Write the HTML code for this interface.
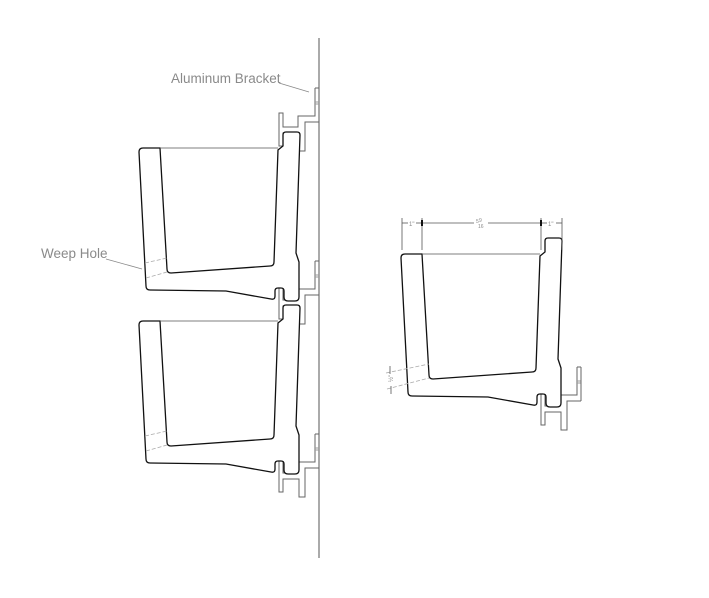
<!DOCTYPE html>
<html><head><meta charset="utf-8"><style>
html,body{margin:0;padding:0;background:#fff;}
svg{display:block;}
text{font-family:"Liberation Sans",sans-serif;fill:#8a8a8a;}
</style></head><body>
<svg width="709" height="598" viewBox="0 0 709 598" xmlns="http://www.w3.org/2000/svg">
<defs>
<g id="br" fill="none" stroke="#666" stroke-width="1">
  <path d="M315,88 L315,116 L298,116 L298,127 L283,127 L283,113 L279,113 L279,146 L283,146 L283,133 L299,133 L299,151 L305,151 L305,122 L319,122"/>
  <path d="M315,102 L319,102 M315,104 L319,104" stroke="#999"/>
  <path d="M315,88 L319,88"/>
</g>
<g id="pl">
  <path d="M160,148 L167,269 Q167,273 171,273 L270,266 Q274,266 274,262 L278,150 L283,146 L283,135 Q283,132 286,132 L297,132 Q300,132 300,135 L296,253 L299,262 L299,297 Q299,301 295,301 L288,301 Q284,301 284,297 L284,291 Q284,288 281,288 L278,288 Q275,288 275,291 L275,296 Q275,300 271,299 L226,291 L150,290 Q146,290 146,286 L139,152 Q139,148 143,148 Z" fill="#fff" stroke="#111" stroke-width="1.3"/>
  <path d="M160,148 L278,148" stroke="#555" stroke-width="0.8"/>
</g>
</defs>
<line x1="319" y1="38" x2="319" y2="558" stroke="#555" stroke-width="1"/>
<use href="#br"/>
<use href="#br" transform="translate(0,173)"/>
<use href="#br" transform="translate(0,346)"/>
<use href="#pl"/>
<use href="#pl" transform="translate(0,173)"/>
<g stroke="#aaa" stroke-width="0.8" stroke-dasharray="4,2">
<line x1="145" y1="263" x2="167" y2="258"/>
<line x1="146" y1="278" x2="167" y2="272"/>
<line x1="145" y1="436" x2="167" y2="431"/>
<line x1="146" y1="451" x2="167" y2="445"/>
</g>
<text x="171" y="83" font-size="13.5">Aluminum Bracket</text>
<line x1="279" y1="83" x2="309" y2="92" stroke="#888" stroke-width="0.8"/>
<text x="41" y="258" font-size="13.5">Weep Hole</text>
<line x1="106" y1="259" x2="142" y2="269" stroke="#888" stroke-width="0.8"/>
<!-- right diagram -->
<use href="#br" transform="translate(262,279)"/>
<line x1="581" y1="367" x2="581" y2="401" stroke="#666" stroke-width="1"/>
<use href="#pl" transform="translate(262,106)"/>
<g stroke="#aaa" stroke-width="0.8" stroke-dasharray="4,2">
<line x1="386" y1="373" x2="429" y2="364"/>
<line x1="387" y1="389" x2="429" y2="378"/>
</g>
<g stroke="#555" stroke-width="0.8" fill="none">
<line x1="402" y1="218" x2="402" y2="250"/>
<line x1="422" y1="218" x2="422" y2="250"/>
<line x1="541" y1="218" x2="541" y2="250"/>
<line x1="562" y1="218" x2="562" y2="250"/>
<line x1="402" y1="223" x2="408" y2="223"/>
<line x1="416" y1="223" x2="422" y2="223"/>
<line x1="422" y1="223" x2="474" y2="223"/>
<line x1="488" y1="223" x2="541" y2="223"/>
<line x1="541" y1="223" x2="547" y2="223"/>
<line x1="556" y1="223" x2="562" y2="223"/>
<line x1="390" y1="366" x2="390" y2="374"/>
<line x1="391" y1="386" x2="391" y2="394"/>
</g>
<g stroke="#111" stroke-width="2">
<line x1="422" y1="220" x2="422" y2="226"/>
<line x1="541" y1="220" x2="541" y2="226"/>
</g>
<text x="409" y="226" font-size="6">1"</text>
<text x="548" y="226" font-size="6">1"</text>
<text x="476" y="223" font-size="5">5</text>
<text x="479" y="222" font-size="5">9</text>
<text x="478" y="228" font-size="5">16</text>
<text x="0" y="0" font-size="6" transform="translate(393,382) rotate(-90)">½"</text>
</svg>
</body></html>
